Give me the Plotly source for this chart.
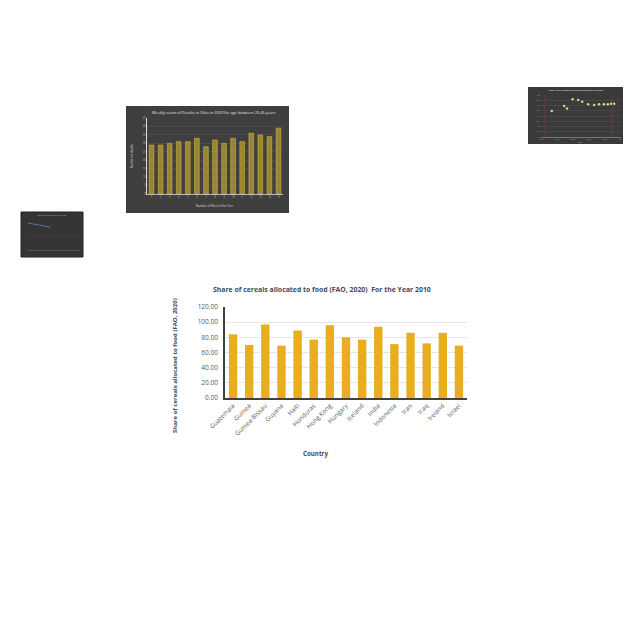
import plotly.graph_objects as go

W, H = 640, 640

# ---------------- main chart data ----------------
countries = ["Guatemala", "Guinea", "Guinea-Bissau", "Guyana", "Haiti", "Honduras",
             "Hong Kong", "Hungary", "Iceland", "India", "Indonesia", "Iran", "Iraq",
             "Ireland", "Israel"]
share_food = [84, 70, 97, 69, 89, 77, 96, 80, 77, 94, 71, 86, 72, 86, 69]
y_ticks = [0, 20, 40, 60, 80, 100, 120]
y_tick_labels = ["0.00", "20.00", "40.00", "60.00", "80.00", "100.00", "120.00"]

# ---------------- thumbnail 1: weekly deaths ----------------
weeks = [str(i) for i in range(1, 16)]
weekly_deaths = [29, 29, 30, 31, 31, 33, 28, 32, 30, 33, 31, 36, 35, 34, 39]

# ---------------- thumbnail 2: scatter ----------------
t2_x = [2.7, 5.8, 6.5, 7.9, 9.3, 10.3, 11.8, 13.3, 14.5, 15.7, 16.7, 17.5, 18.3]
t2_y = [62, 74, 68, 90, 88, 84, 78, 76, 78, 78, 78, 79, 79]

# ---------------- thumbnail 3: line ----------------
t3_x = [0, 1, 2, 3, 4, 5, 6]
t3_y = [90, 88, 86, 84, 81, 78, 76]


def px_x(a, b):
    return [a / W, b / W]


def px_y(top, bottom):
    return [1 - bottom / H, 1 - top / H]


fig = go.Figure()

fig.add_trace(go.Bar(
    x=countries, y=share_food, xaxis="x", yaxis="y",
    marker=dict(color="#E9AD20", line=dict(width=0)),
    showlegend=False, hoverinfo="x+y"))

fig.add_trace(go.Bar(
    x=weeks, y=weekly_deaths, xaxis="x2", yaxis="y2",
    marker=dict(color="#9A8632", line=dict(color="#C9B14A", width=0.6)),
    showlegend=False))

fig.add_trace(go.Scatter(
    x=t2_x, y=t2_y, xaxis="x3", yaxis="y3", mode="markers",
    marker=dict(color="#D2DC7A", size=2.5), showlegend=False))

fig.add_trace(go.Scatter(
    x=t3_x, y=t3_y, xaxis="x4", yaxis="y4", mode="lines",
    line=dict(color="#5F7396", width=1), showlegend=False))

font_main = "Open Sans, Liberation Sans, sans-serif"
font_tick = "Open Sans, Liberation Sans, sans-serif"
thumb_tick = dict(family=font_tick, size=2.6, color="#BBBBBB")

shapes = [
    dict(type="rect", xref="paper", yref="paper", layer="below",
         x0=126 / W, x1=289 / W, y0=1 - 213 / H, y1=1 - 106 / H,
         fillcolor="#3F3F3F", line=dict(width=0)),
    dict(type="rect", xref="paper", yref="paper", layer="below",
         x0=528 / W, x1=623 / W, y0=1 - 144 / H, y1=1 - 87 / H,
         fillcolor="#3A3A3A", line=dict(width=0)),
    dict(type="rect", xref="paper", yref="paper", layer="below",
         x0=21 / W, x1=83 / W, y0=1 - 257 / H, y1=1 - 212 / H,
         fillcolor="#353535", line=dict(color="#222222", width=1)),
    dict(type="line", xref="paper", yref="paper", layer="below",
         x0=545 / W, x1=545 / W, y0=1 - 138 / H, y1=1 - 95 / H,
         line=dict(color="#7A3A4A", width=0.8)),
    dict(type="line", xref="paper", yref="paper", layer="below",
         x0=612 / W, x1=612 / W, y0=1 - 138 / H, y1=1 - 95 / H,
         line=dict(color="#7A3A4A", width=0.8)),
]


def ann(text, x, y, size, color, family=font_tick, angle=0):
    return dict(text=text, xref="paper", yref="paper", x=x / W, y=1 - y / H,
                showarrow=False, textangle=angle, xanchor="center", yanchor="middle",
                font=dict(family=family, size=size, color=color))


annotations = [
    ann("<b>Share of cereals allocated to food (FAO, 2020)  For the Year 2010</b>",
        322, 289, 6.9, "#3F4B5C", font_main),
    ann("<b>Share of cereals allocated to food (FAO, 2020)</b>",
        175, 366, 6.0, "#3F4B5C", font_main, -90),
    ann("<b>Country</b>", 315, 453, 6.2, "#3F4B5C", font_main),
    ann("Weekly count of Deaths in Ohio in 2020 for age between 25-45 years",
        214, 113, 3.9, "#E8E8E8"),
    ann("Number of deaths", 132, 156, 2.8, "#DDDDDD", angle=-90),
    ann("Number of Week of the Year", 215, 206, 2.8, "#DDDDDD"),
    ann("Total Army personal to jobs demographic dividend", 576, 90.5, 2.3, "#E8E8E8"),
    ann("Year", 580, 142, 2, "#BBBBBB"),
    ann("Population trend over the years", 52, 215.5, 2, "#AAAAAA"),
]

fig.update_layout(
    width=W, height=H,
    margin=dict(l=0, r=0, t=0, b=0, autoexpand=False),
    paper_bgcolor="white",
    plot_bgcolor="rgba(0,0,0,0)",
    font=dict(family=font_tick, color="#595959"),
    bargap=0.48,
    shapes=shapes,
    annotations=annotations,
    showlegend=False,
    xaxis=dict(domain=px_x(225, 467), anchor="y", showgrid=False, automargin=False,
               showline=True, linecolor="#404040", linewidth=1.5, zeroline=False,
               tickangle=-45, tickfont=dict(family=font_tick, size=6.3, color="#595959"),
               ticks="", fixedrange=True),
    yaxis=dict(domain=px_y(307, 398), anchor="x", range=[0, 120], automargin=False,
               tickvals=y_ticks, ticktext=y_tick_labels,
               showgrid=True, gridcolor="#E6E6E6", gridwidth=1,
               showline=True, linecolor="#404040", linewidth=1.5,
               zeroline=False, ticks="", ticklabelstandoff=4,
               tickfont=dict(family=font_tick, size=6.5, color="#595959"),
               fixedrange=True),
    xaxis2=dict(domain=px_x(147, 283), anchor="y2", showgrid=False, automargin=False,
                showline=True, linecolor="#BBBBBB", linewidth=0.6, zeroline=False,
                tickfont=thumb_tick, ticks=""),
    yaxis2=dict(domain=px_y(118, 194), anchor="x2", range=[0, 45], dtick=5,
                automargin=False,
                showgrid=True, gridcolor="#4D4D4D", gridwidth=0.5,
                showline=True, linecolor="#DDDDDD", linewidth=0.6,
                zeroline=False, tickfont=thumb_tick, ticks=""),
    xaxis3=dict(domain=px_x(541, 621), anchor="y3", range=[0, 20], automargin=False,
                showgrid=False, showline=True, linecolor="#777777", linewidth=0.5,
                zeroline=False,
                showticklabels=True, tickvals=[0, 4, 8, 12, 16, 20],
                ticktext=["1990", "1995", "2000", "2005", "2010", "2015"],
                tickfont=dict(family=font_tick, size=2, color="#999999"), ticks=""),
    yaxis3=dict(domain=px_y(95, 137), anchor="x3", range=[0, 100], dtick=12.5,
                automargin=False,
                showgrid=True, gridcolor="#474747", gridwidth=0.4,
                zeroline=False, showticklabels=True,
                tickfont=dict(family=font_tick, size=2, color="#999999"), ticks=""),
    xaxis4=dict(domain=px_x(28, 80), anchor="y4", range=[0, 14], automargin=False,
                showgrid=False, showline=True, linecolor="#555555", linewidth=0.5,
                zeroline=False, showticklabels=False, ticks=""),
    yaxis4=dict(domain=px_y(220, 250), anchor="x4", range=[0, 100], automargin=False,
                showgrid=True, gridcolor="#3F3F3F", gridwidth=0.4,
                zeroline=False, showticklabels=False, ticks=""),
)

fig.write_html("out.html")
